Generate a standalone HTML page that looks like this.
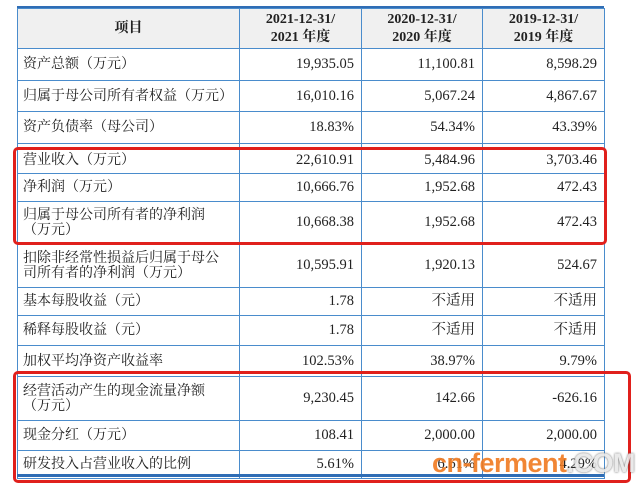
<!DOCTYPE html>
<html><head><meta charset="utf-8"><style>
body{margin:0;width:640px;height:491px;background:#fff;position:relative;overflow:hidden;font-family:"Liberation Serif","Noto Serif CJK SC",serif;}
table{position:absolute;left:17px;top:8px;border-collapse:collapse;width:587px;table-layout:fixed;}
td{border:1px solid #4a8ccc;font-size:14px;line-height:15px;color:#222;padding:0 5px;white-space:nowrap;overflow:hidden;}
td.n{text-align:right;padding-right:7px;font-size:14.5px;}
tr.h td{background:#f0f0f0;font-weight:bold;text-align:center;line-height:18px;}
.box{position:absolute;border:3px solid #e0201c;border-radius:5px;}
.wm{position:absolute;left:432px;top:448px;font-family:"Liberation Sans",sans-serif;font-weight:bold;font-size:27px;color:#f07a20;letter-spacing:-0.5px;opacity:.9}
.wm span{color:#e8e8e8;text-shadow:0 0 2px #555;}
</style></head><body>
<div style="position:absolute;left:17px;top:6px;width:587px;height:3px;background:#2f6db5"></div>
<table>
<colgroup><col style="width:222px"><col style="width:122px"><col style="width:121px"><col style="width:122px"></colgroup>
<tr class="h" style="height:40px"><td>项目</td><td>2021-12-31/<br>2021 年度</td><td>2020-12-31/<br>2020 年度</td><td>2019-12-31/<br>2019 年度</td></tr>
<tr style="height:32px"><td>资产总额（万元）</td><td class="n">19,935.05</td><td class="n">11,100.81</td><td class="n">8,598.29</td></tr>
<tr style="height:31px"><td>归属于母公司所有者权益（万元）</td><td class="n">16,010.16</td><td class="n">5,067.24</td><td class="n">4,867.67</td></tr>
<tr style="height:32px"><td>资产负债率（母公司）</td><td class="n">18.83%</td><td class="n">54.34%</td><td class="n">43.39%</td></tr>
<tr style="height:30px"><td style="padding-top:4px">营业收入（万元）</td><td class="n" style="padding-top:4px">22,610.91</td><td class="n" style="padding-top:4px">5,484.96</td><td class="n" style="padding-top:4px">3,703.46</td></tr>
<tr style="height:28px"><td>净利润（万元）</td><td class="n">10,666.76</td><td class="n">1,952.68</td><td class="n">472.43</td></tr>
<tr style="height:42px"><td>归属于母公司所有者的净利润<br>（万元）</td><td class="n">10,668.38</td><td class="n">1,952.68</td><td class="n">472.43</td></tr>
<tr style="height:44px"><td>扣除非经常性损益后归属于母公<br>司所有者的净利润（万元）</td><td class="n">10,595.91</td><td class="n">1,920.13</td><td class="n">524.67</td></tr>
<tr style="height:28px"><td>基本每股收益（元）</td><td class="n">1.78</td><td class="n">不适用</td><td class="n">不适用</td></tr>
<tr style="height:30px"><td>稀释每股收益（元）</td><td class="n">1.78</td><td class="n">不适用</td><td class="n">不适用</td></tr>
<tr style="height:31px"><td>加权平均净资产收益率</td><td class="n">102.53%</td><td class="n">38.97%</td><td class="n">9.79%</td></tr>
<tr style="height:44px"><td>经营活动产生的现金流量净额<br>（万元）</td><td class="n">9,230.45</td><td class="n">142.66</td><td class="n">-626.16</td></tr>
<tr style="height:30px"><td>现金分红（万元）</td><td class="n">108.41</td><td class="n">2,000.00</td><td class="n">2,000.00</td></tr>
<tr style="height:28px"><td>研发投入占营业收入的比例</td><td class="n">5.61%</td><td class="n">6.61%</td><td class="n">4.29%</td></tr>
</table>
<div style="position:absolute;left:17px;top:474px;width:587px;height:3px;background:#2f6db5"></div>
<div class="box" style="left:13px;top:147px;width:588px;height:92px"></div>
<div class="box" style="left:13px;top:371px;width:612px;height:106px"></div>
<div class="wm">cn-ferment<span>.COM</span></div>
</body></html>
